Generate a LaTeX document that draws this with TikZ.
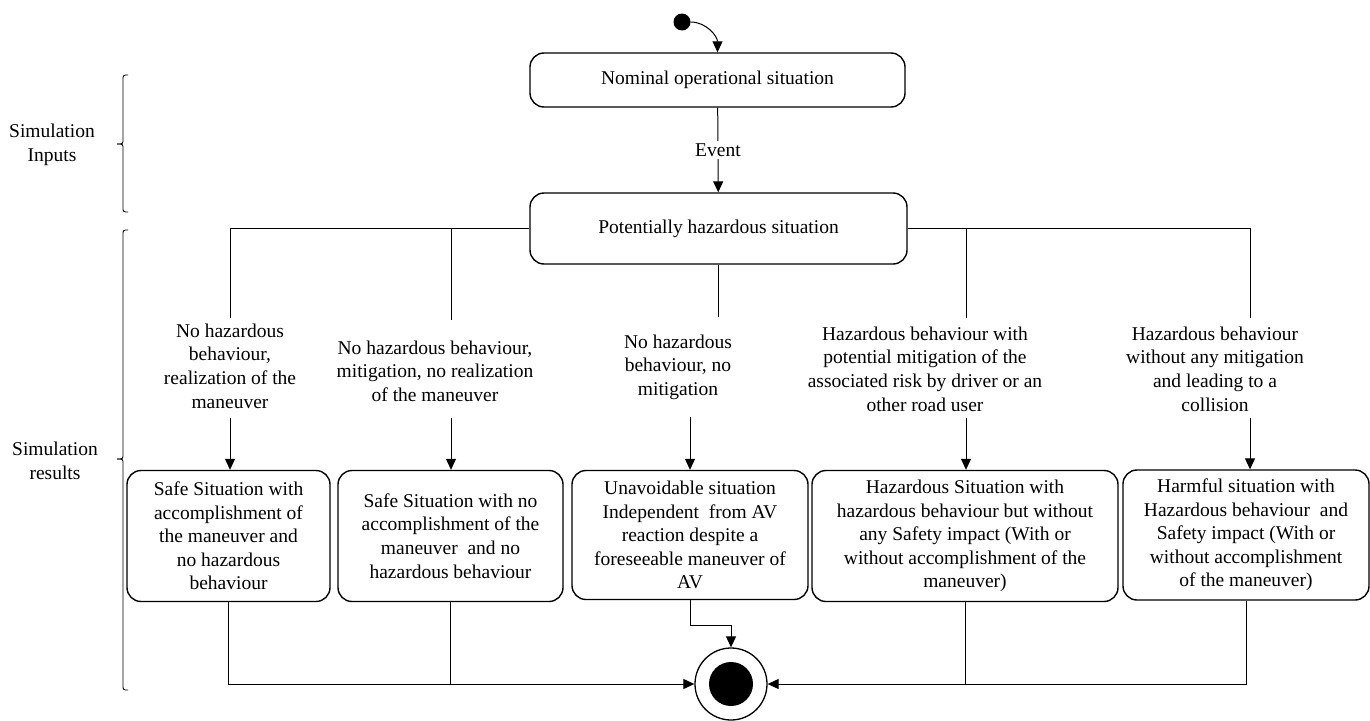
\documentclass[tikz,border=0pt]{standalone}
\usepackage{fontspec}
\setmainfont{Liberation Serif}
\usetikzlibrary{arrows.meta}
\begin{document}
\begin{tikzpicture}[x=1pt,y=-1pt,
  txt/.style={font=\fontsize{19.5}{23.6}\selectfont, align=center, inner sep=0pt},
  state/.style={txt, rectangle, draw, line width=1.4pt, rounded corners=14pt},
  flow/.style={line width=1pt},
  arr/.style={flow, -{Triangle[length=11pt,width=10pt]}},
  brace/.style={line width=0.9pt, rounded corners=2.5pt}
]
\useasboundingbox (0,0) rectangle (1370,720);

% initial and upper states
\node[circle, fill, inner sep=0pt, minimum size=17pt] (init) at (682,22) {};
\node[state, minimum width=375pt, minimum height=54pt] (nom) at (717.5,80) {Nominal operational situation};
\node[state, minimum width=377pt, minimum height=71pt] (hz) at (718.5,228.5) {Potentially hazardous situation};

\draw[arr] (init.east) to[out=0,in=90] (nom.north);
\draw[arr] (nom) -- node[txt, fill=white, inner sep=3pt] {Event} (hz);

% transition labels
\node[txt] (l1) at (230,366) {No hazardous\\behaviour,\\realization of the\\maneuver};
\node[txt] (l2) at (435,371) {No hazardous behaviour,\\mitigation, no realization\\of the maneuver};
\node[txt] (l3) at (678,367) {No hazardous\\behaviour, no\\mitigation};
\node[txt] (l4) at (925,369) {Hazardous behaviour with\\potential mitigation of the\\associated risk by driver or an\\other road user};
\node[txt] (l5) at (1215,369) {Hazardous behaviour\\without any mitigation\\and leading to a\\collision};

% outcome states
\node[state, minimum width=203pt, minimum height=131pt] (s1) at (228.5,536) {Safe Situation with\\accomplishment of\\the maneuver and\\no hazardous\\behaviour};
\node[state, minimum width=225pt, minimum height=131pt] (s2) at (450.5,536) {Safe Situation with no\\accomplishment of the\\maneuver~ and no\\hazardous behaviour};
\node[state, minimum width=236pt, minimum height=129pt] (s3) at (690,535) {Unavoidable situation\\Independent~ from AV\\reaction despite a\\foreseeable maneuver of\\AV};
\node[state, minimum width=306pt, minimum height=131pt] (s4) at (965,536) {Hazardous Situation with\\hazardous behaviour but without\\any Safety impact (With or\\without accomplishment of the\\maneuver)};
\node[state, minimum width=246pt, minimum height=130pt] (s5) at (1246,535) {Harmful situation with\\Hazardous behaviour~ and\\Safety impact (With or\\without accomplishment\\of the maneuver)};

% final state
\node[circle, draw, line width=1.3pt, inner sep=0pt, minimum size=72pt] (fin) at (731,684) {};
\node[circle, fill, inner sep=0pt, minimum size=44pt] (fincore) at (fin.center) {};

% label gaps on the branches
\coordinate (t1) at (230,318);   \coordinate (b1) at (230,418);
\coordinate (t2) at (451,320);   \coordinate (b2) at (451,418);
\coordinate (t3) at (718.5,317); \coordinate (b3) at (690,417);
\coordinate (t4) at (966,318);   \coordinate (b4) at (966,418);
\coordinate (t5) at (1250,318);  \coordinate (b5) at (1250,418);

\draw[flow] (hz.west) -| (t1);
\draw[flow] (hz.west) -| (t2);
\draw[flow] (hz.south) -- (t3);
\draw[flow] (hz.east) -| (t4);
\draw[flow] (hz.east) -| (t5);

\draw[arr] (b1) -- (b1 |- s1.north);
\draw[arr] (b2) -- (b2 |- s2.north);
\draw[arr] (b3) -- (b3 |- s3.north);
\draw[arr] (b4) -- (b4 |- s4.north);
\draw[arr] (b5) -- (b5 |- s5.north);

% merging into the final state
\draw[arr] (s1.south) |- (fin.west);
\draw[flow] (s2.south) -- (s2.south |- fin.west);
\draw[arr] (s3.south) -- ++(0,25) -| (fin.north);
\draw[flow] (s4.south) -- (s4.south |- fin.east);
\draw[arr] (s5.south) |- (fin.east);

% phase brackets
\draw[brace] (128,75) -- (123,75) -- (123,144) -- (117,144);
\draw[brace] (117,144) -- (123,144) -- (123,212) -- (128,212);
\draw[brace] (128,230) -- (123,230) -- (123,459) -- (117,459);
\draw[brace] (117,459) -- (123,459) -- (123,690) -- (128,690);

\node[txt] (inp) at (52,145) {Simulation\\Inputs};
\node[txt] (res) at (55,461) {Simulation\\results};
\end{tikzpicture}
\end{document}
